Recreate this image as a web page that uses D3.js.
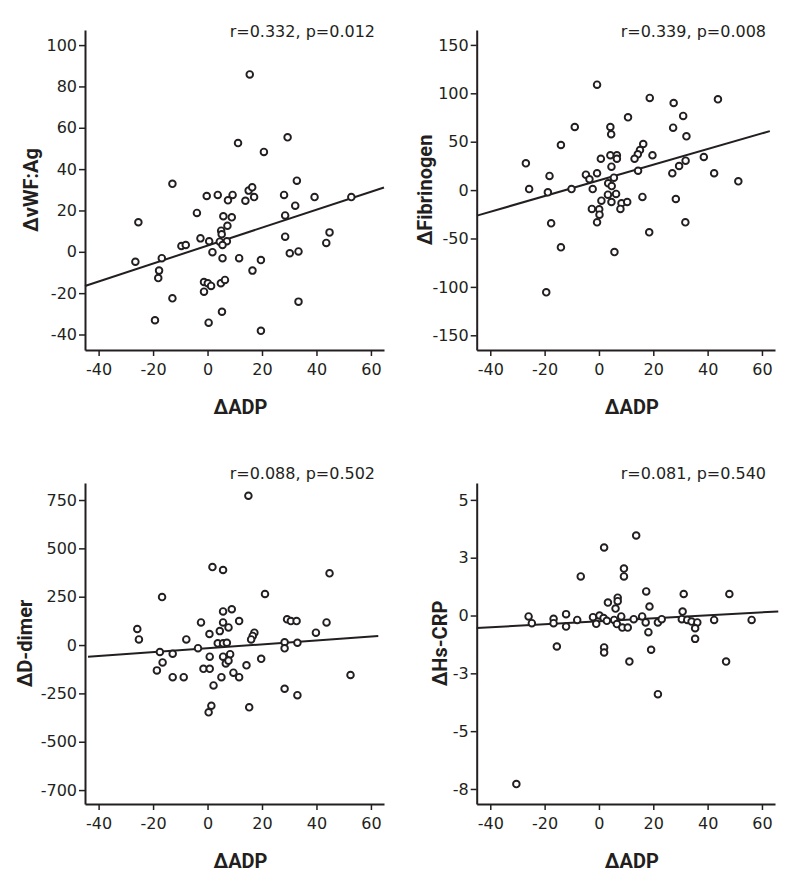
<!DOCTYPE html>
<html>
<head>
<meta charset="utf-8">
<script src="https://cdn.jsdelivr.net/npm/d3@7"></script>
<style>
  body { margin: 0; background: #fff; }
  .tick text { font-family: "DejaVu Sans", sans-serif; font-weight: normal; font-size: 16px; fill: #231f20; }
  .stat { font-family: "DejaVu Sans", sans-serif; font-weight: normal; font-size: 16px; fill: #231f20; }
  .ttl { font-family: Roboto, "Liberation Sans", sans-serif; font-weight: bold; font-size: 20px; fill: #231f20; }
</style>
</head>
<body>
<div id="chart"></div>
<script>

// shared x axis (delta ADP)
var adpDomain = [-45, 64.8];
var adpTicks = [-40, -20, 0, 20, 40, 60];

// panel 1: delta vWF:Ag
var vwfADP = [15.5, 11.2, 20.7, 29.4, -12.9, 32.8, -0.3, 3.75, 9.2, 7.5, 13.9, 15.1, 16.4, 17.1, 28.1, 39.3, 52.8, 32.2, -3.9, 28.5,
  -25.4, 5.8, 8.9, 7.3, 5.0, 5.2, 44.8, 43.6, 28.5, -2.6, 0.6, 4.5, 7.1, 5.5, -9.6, -8.0, 1.8, 30.2, 33.4, -26.5,
  -16.8, 5.5, 11.6, 19.6, -17.8, 16.5, -18.1, -1.3, 0.1, 1.3, -1.3, 4.9, 6.4, -12.9, 33.4, 5.3, -19.3, 0.4, 19.6];
var vwfVal = [85.8, 52.6, 48.3, 55.4, 32.9, 34.4, 27.0, 27.5, 27.5, 24.9, 24.7, 29.6, 31.2, 26.5, 27.5, 26.5, 26.5, 22.3, 18.8, 17.6,
  14.3, 17.2, 16.7, 12.6, 10.2, 8.5, 9.4, 4.3, 7.3, 6.5, 5.1, 4.9, 5.1, 3.3, 2.8, 3.3, -0.2, -0.7, 0.2, -4.8,
  -3.1, -3.1, -3.1, -4.0, -9.1, -9.1, -12.7, -14.6, -15.2, -16.5, -19.3, -15.2, -13.6, -22.5, -24.1, -29.0, -33.1, -34.3, -38.2];
var vwfDomain = [-47.5, 107.3];
var vwfTicks = [-40, -20, 0, 20, 40, 60, 80, 100];
var vwfTickLabels = ["-40", "-20", "0", "20", "40", "60", "80", "100"];
var vwfFit = [3.0, 0.434];          // intercept, slope
var vwfFitRange = [-45, 64.8];

// panel 2: delta fibrinogen
var fibADP = [-0.7, 18.7, 27.5, 43.8, 10.7, 31.0, -8.9, 4.2, 4.5, 27.3, 32.2, -14.0, 16.3, 15.1, 14.3, 13.1, 4.2, 6.6, 6.6, 0.7,
  19.7, 38.6, 31.9, 29.5, 4.6, -26.9, 14.4, 27.0, 42.4, 51.3, -18.2, -4.8, -0.7, -3.5, 5.5, 3.4, 4.7, -25.7, -18.8, -10.1,
  -2.3, 3.3, 6.3, 0.9, 4.6, 8.3, 10.4, 7.9, -2.6, 0.1, 0.2, -0.7, 16.0, 28.3, 31.8, -17.6, 18.5, -14.0, 5.7, -19.4];
var fibVal = [108.9, 95.2, 90.0, 93.8, 75.2, 76.6, 65.2, 65.2, 57.7, 64.5, 55.6, 46.6, 47.6, 41.4, 37.0, 32.4, 36.0, 36.0, 32.4, 32.4,
  36.0, 34.2, 30.4, 24.9, 24.2, 27.7, 20.0, 17.4, 17.4, 9.1, 14.6, 15.9, 17.4, 11.2, 12.8, 7.0, 4.2, 1.1, -2.3, 1.1,
  1.1, -4.7, -4.0, -10.9, -12.3, -13.6, -12.3, -19.5, -19.5, -19.8, -25.4, -33.3, -7.1, -9.2, -33.3, -34.3, -43.6, -59.1, -64.0, -105.6];
var fibDomain = [-165.2, 165.4];
var fibTicks = [-150, -100, -50, 0, 50, 100, 150];
var fibTickLabels = ["-150", "-100", "-50", "0", "50", "100", "150"];
var fibFit = [10.0, 0.81];
var fibFitRange = [-44.9, 62.9];

// panel 3: delta D-dimer
var ddADP = [15.0, 1.8, 5.7, 44.8, -16.7, 21.1, 5.7, 8.9, -2.4, 5.7, 11.6, 7.7, 4.5, 0.7, 29.2, 30.6, 32.7, 43.7, 39.8, -25.8,
  -25.2, -7.8, 17.2, 16.6, 16.0, 3.75, 5.7, 7.1, 28.3, 28.3, 33.0, -3.5, -17.5, -12.8, 0.8, 5.7, 8.3, 19.7, -16.5, -18.6,
  -12.8, -8.75, -1.5, 0.8, 6.7, 7.7, 5.1, 9.5, 11.6, 14.3, 2.2, 1.4, 0.4, 15.3, 28.3, 33.0, 52.5];
var ddVal = [772, 403, 388, 371, 248, 264, 174, 185, 117, 117, 124, 91, 72, 57, 133, 124, 124, 117, 64, 83,
  29, 29, 64, 47, 29, 9, 9, 12, 14, -17, 12, -16, -36, -45, -60, -60, -47, -71, -90, -131,
  -166, -166, -123, -123, -95, -81, -166, -143, -166, -105, -209, -314, -348, -322, -226, -259, -155];
var ddDomain = [-822, 838];
var ddTicks = [-750, -500, -250, 0, 250, 500, 750];
var ddTickLabels = ["-700", "-500", "-250", "0", "250", "500", "750"];
var ddFit = [-16.4, 1.005];
var ddFitRange = [-43.9, 62.7];

// panel 4: delta Hs-CRP
var crpADP = [13.7, 1.9, 9.2, 9.2, -6.7, 17.4, 31.2, 48.0, 6.9, 6.9, 3.3, 6.1, 18.6, 30.8, -25.9, -24.7, -16.7, -16.7, -12.1, -12.1,
  -8.0, -2.2, -1.0, 0.2, 1.7, 2.9, 5.6, 6.6, 8.2, 8.6, 10.6, 12.8, 15.9, 17.2, 21.7, 23.1, 18.2, 30.5, 32.5, 34.1,
  36.2, 35.4, 35.4, 42.4, 56.2, -15.5, 1.9, 1.9, 19.2, 11.2, 46.8, 21.7, -30.4];
var crpVal = [3.46, 2.94, 2.03, 1.69, 1.69, 1.04, 0.93, 0.93, 0.77, 0.62, 0.56, 0.30, 0.39, 0.17, -0.04, -0.33, -0.14, -0.33, 0.06, -0.48,
  -0.19, -0.07, -0.36, 0.0, -0.11, -0.23, -0.19, -0.37, -0.04, -0.52, -0.52, -0.16, -0.04, -0.30, -0.30, -0.16, -0.72, -0.16, -0.19, -0.26,
  -0.30, -0.55, -1.01, -0.19, -0.19, -1.34, -1.38, -1.60, -1.48, -1.99, -1.99, -3.40, -7.29];
var crpDomain = [-8.15, 5.73];
var crpTicks = [-7.5, -5, -2.5, 0, 2.5, 5];
var crpTickLabels = ["-8", "-5", "-3", "0", "3", "5"];
var crpFit = [-0.25, 0.0065];
var crpFitRange = [-45, 66];

var ink = "#231f20";

var svg = d3.select("#chart")
  .append("svg")
    .attr("width", 794)
    .attr("height", 886);

function drawPanel(p) {
  var x = d3.scaleLinear().domain(adpDomain).range([p.left, p.right]);
  var y = d3.scaleLinear().domain(p.yDomain).range([p.bottom, p.top]);
  var g = svg.append("g");

  // x axis
  var xa = g.append("g")
    .attr("transform", "translate(0," + p.bottom + ")")
    .call(d3.axisBottom(x).tickValues(adpTicks).tickSize(6).tickPadding(8)
      .tickSizeOuter(0).tickFormat(function(d) { return String(d); }));
  xa.select(".domain").attr("stroke", ink).attr("stroke-width", 2);
  xa.selectAll(".tick line").attr("stroke", ink).attr("stroke-width", 1.5);

  // y axis
  var ya = g.append("g")
    .attr("transform", "translate(" + p.left + ",0)")
    .call(d3.axisLeft(y).tickValues(p.yTicks).tickSize(6).tickPadding(2)
      .tickSizeOuter(0).tickFormat(function(d, i) { return p.yLabels[i]; }));
  ya.select(".domain").attr("stroke", ink).attr("stroke-width", 2);
  ya.selectAll(".tick line").attr("stroke", ink).attr("stroke-width", 1.5);

  // regression line
  g.append("path")
    .datum(p.fitRange)
    .attr("fill", "none")
    .attr("stroke", ink)
    .attr("stroke-width", 2)
    .attr("d", d3.line()
      .x(function(d) { return x(d); })
      .y(function(d) { return y(p.fit[0] + p.fit[1] * d); }));

  // points
  g.selectAll("circle")
    .data(p.xs)
    .enter().append("circle")
      .attr("cx", function(d) { return x(d); })
      .attr("cy", function(d, i) { return y(p.ys[i]); })
      .attr("r", 3.3)
      .attr("fill", "#fff")
      .attr("stroke", ink)
      .attr("stroke-width", 1.9);

  g.append("text")
    .attr("class", "stat")
    .attr("x", p.right - 9)
    .attr("y", p.statY)
    .attr("text-anchor", "end")
    .text(p.stat);

  g.append("text")
    .attr("class", "ttl")
    .attr("x", (p.left + p.right) / 2 + 6)
    .attr("y", p.bottom + 64)
    .attr("text-anchor", "middle")
    .text("ΔADP");

  g.append("text")
    .attr("class", "ttl")
    .attr("transform", "translate(" + (p.left - p.yTitleGap) + "," + ((p.top + p.bottom) / 2) + ") rotate(-90)")
    .attr("text-anchor", "middle")
    .text(p.title);
}

drawPanel({ left: 85, right: 384, top: 30, bottom: 350, statY: 37, yTitleGap: 47,
  xs: vwfADP, ys: vwfVal, yDomain: vwfDomain, yTicks: vwfTicks, yLabels: vwfTickLabels,
  fit: vwfFit, fitRange: vwfFitRange, stat: "r=0.332, p=0.012", title: "ΔvWF:Ag" });

drawPanel({ left: 476.7, right: 775, top: 30, bottom: 350, statY: 37, yTitleGap: 45,
  xs: fibADP, ys: fibVal, yDomain: fibDomain, yTicks: fibTicks, yLabels: fibTickLabels,
  fit: fibFit, fitRange: fibFitRange, stat: "r=0.339, p=0.008", title: "ΔFibrinogen" });

drawPanel({ left: 85, right: 384, top: 483, bottom: 804, statY: 479, yTitleGap: 53,
  xs: ddADP, ys: ddVal, yDomain: ddDomain, yTicks: ddTicks, yLabels: ddTickLabels,
  fit: ddFit, fitRange: ddFitRange, stat: "r=0.088, p=0.502", title: "ΔD-dimer" });

drawPanel({ left: 476.7, right: 775, top: 483, bottom: 804, statY: 479, yTitleGap: 30,
  xs: crpADP, ys: crpVal, yDomain: crpDomain, yTicks: crpTicks, yLabels: crpTickLabels,
  fit: crpFit, fitRange: crpFitRange, stat: "r=0.081, p=0.540", title: "ΔHs-CRP" });

</script>
</body>
</html>
